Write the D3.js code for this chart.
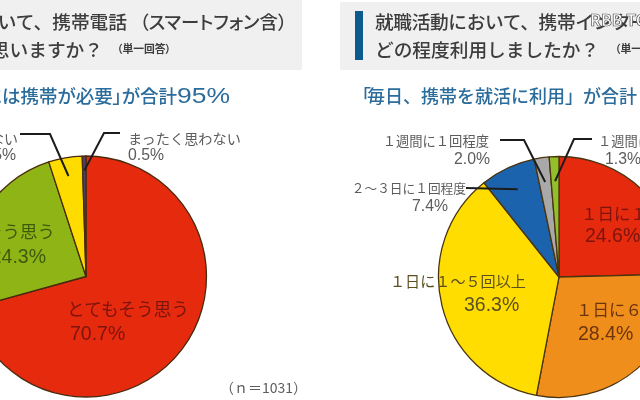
<!DOCTYPE html>
<html><head><meta charset="utf-8">
<script src="https://cdnjs.cloudflare.com/ajax/libs/d3/7.8.5/d3.min.js"></script>
<style>html,body{margin:0;padding:0;background:#fff;overflow:hidden}svg{display:block}
text{font-family:"Noto Sans CJK JP","Noto Sans",sans-serif}</style></head><body>
<svg id="c" width="640" height="400"></svg>
<script>
// data
const leftCategories = ["とてもそう思う","そう思う","あまりそう思わない","まったく思わない"];
const leftValues = [70.7,24.3,4.5,0.5];
const leftColors = ["#e62a0e","#8fb414","#ffdc00","#4b3f66"];
const rightCategories = ["１日に１０回以上","１日に６〜１０回","１日に１〜５回以上","２〜３日に１回程度","１週間に１回程度","１週間に１回未満"];
const rightValues = [24.6,28.4,36.3,7.4,2.0,1.3];
const rightColors = ["#e62a0e","#f08e1e","#ffdd00","#1c64ae","#a9a9a9","#93bf2c"];

const svg = d3.select("#c");
const defs = svg.append("defs");
defs.append("filter").attr("id","soft").append("feGaussianBlur").attr("stdDeviation",0.45);
const root = svg.append("g").attr("filter","url(#soft)");

// header panels
[[-10,312,0,70],[340,310,2,68]].forEach(p=>root.append("rect").attr("x",p[0]).attr("width",p[1]).attr("y",p[2]).attr("height",p[3]).attr("fill","#f0f0f0"));
root.append("rect").attr("x",355).attr("y",11).attr("width",8).attr("height",49).attr("fill","#0f5a8c");

function txt(x,y,s,size,fill,anchor,weight){
  return root.append("text").attr("x",x).attr("y",y).attr("font-size",size).attr("fill",fill)
    .attr("text-anchor",anchor||"start").attr("font-weight",weight||400).text(s);
}
const pctFont="'Liberation Sans','Noto Sans',sans-serif";
function ptxt(x,y,s,size,fill,anchor){ return txt(x,y,s,size,fill,anchor).style("font-family",pctFont); }
const ink="#3c3c3c", blue="#2b6c9b", grey="#5c5c5c";
txt(127,29,"において、携帯電話",18.7,ink,"end",500);
txt(287,29,"（スマートフォン含）",18.4,ink,"end",500).style("font-feature-settings","'palt'");
txt(103,57,"と思いますか？",18.7,ink,"end",500);
txt(117,53,"（単一回答）",10.8,ink,"start",700).style("font-feature-settings","'palt'");
txt(375,29,"就職活動において、携帯インターネットを",18.7,ink,"start",500).style("letter-spacing","-0.35px");
txt(375,57,"どの程度利用しましたか？",18.7,ink,"start",500);
txt(615,53,"（単一回答）",10.8,ink,"start",700).style("font-feature-settings","'palt'");
txt(177,103,"「就活には携帯が必要」が合計",18.5,blue,"end",500).style("font-feature-settings","'palt'");
ptxt(177,103,"95%",21.5,blue).attr("textLength",53).attr("lengthAdjust","spacingAndGlyphs");
txt(353,103,"「",18,blue,"start",500);
txt(367,103,"毎日、携帯を就活に利用」が合計",18,blue,"start",500);
root.append("text").attr("x",590).attr("y",26).attr("font-size",16).attr("font-weight",700)
  .attr("fill","#fff").attr("stroke","#555").attr("stroke-width",0.7).attr("font-family","Liberation Sans").text("RBB TODAY");

// pies
function pie(cx,cy,r,vals,cols,outline){
  const g=root.append("g").attr("transform",`translate(${cx},${cy})`);
  const slices=d3.pie().sort(null)(vals);
  const arc=d3.arc().innerRadius(0).outerRadius(r);
  g.selectAll("path").data(slices).join("path").attr("d",arc)
    .attr("fill",(d,i)=>cols[i]).attr("stroke",outline).attr("stroke-width",1.3).attr("stroke-linejoin","round");
  return {slices,point:(i,rad)=>{
    const p=d3.arc().innerRadius(rad).outerRadius(rad).centroid(slices[i]);
    return [cx+p[0],cy+p[1]];
  }};
}
const L=pie(86,276.5,120.5,leftValues,leftColors,"#4a2a10");
const R=pie(559,277,120.5,rightValues,rightColors,"#4a3410");

function leader(pie,i,rad,pts){
  const end=pie.point(i,rad);
  root.append("path").attr("d",d3.line()([...pts,end])).attr("fill","none").attr("stroke","#1c1c1c").attr("stroke-width",2);
}
leader(L,2,102,[[20,134],[50,134]]);
leader(L,3,106,[[120,133],[104,133]]);
leader(R,4,96,[[500,140],[524,140]]);
leader(R,5,96,[[592,139],[574,139]]);
leader(R,3,97,[[466,188]]);

const pct=(v)=>v.toFixed(1)+"%";
// left labels
txt(18,144,leftCategories[2],14,grey,"end");
ptxt(16,160,pct(leftValues[2]),15.8,grey,"end");
txt(128,144,leftCategories[3],14.2,grey);
ptxt(128,160,pct(leftValues[3]),15.8,grey);
txt(55,238,leftCategories[1],17.5,"#3d5a10","end");
ptxt(46,263,pct(leftValues[1]),19.5,"#3d5a10","end");
txt(67,316,leftCategories[0],17.7,"#7c1408");
ptxt(70,340,pct(leftValues[0]),19.5,"#7c1408");
// right labels
txt(489,146,rightCategories[4],13.3,grey,"end");
ptxt(490,164,pct(rightValues[4]),15.8,grey,"end");
txt(598,146,rightCategories[5],13.3,grey);
ptxt(605,164,pct(rightValues[5]),15.8,grey);
txt(466,193,rightCategories[3],12.7,grey,"end");
ptxt(448,211,pct(rightValues[3]),15.8,grey,"end");
txt(581,220,rightCategories[0],16.5,"#7c1408");
ptxt(585,242,pct(rightValues[0]),19.5,"#7c1408");
txt(576,316,rightCategories[1],16.5,"#6c3408");
ptxt(578,340,pct(rightValues[1]),19.5,"#6c3408");
txt(390,287,rightCategories[2],15.1,"#5c5020");
ptxt(464,311,pct(rightValues[2]),19.5,"#5c5020");
// sample size
txt(307,393,"（ｎ＝1031）",14,grey,"end");
</script></body></html>
